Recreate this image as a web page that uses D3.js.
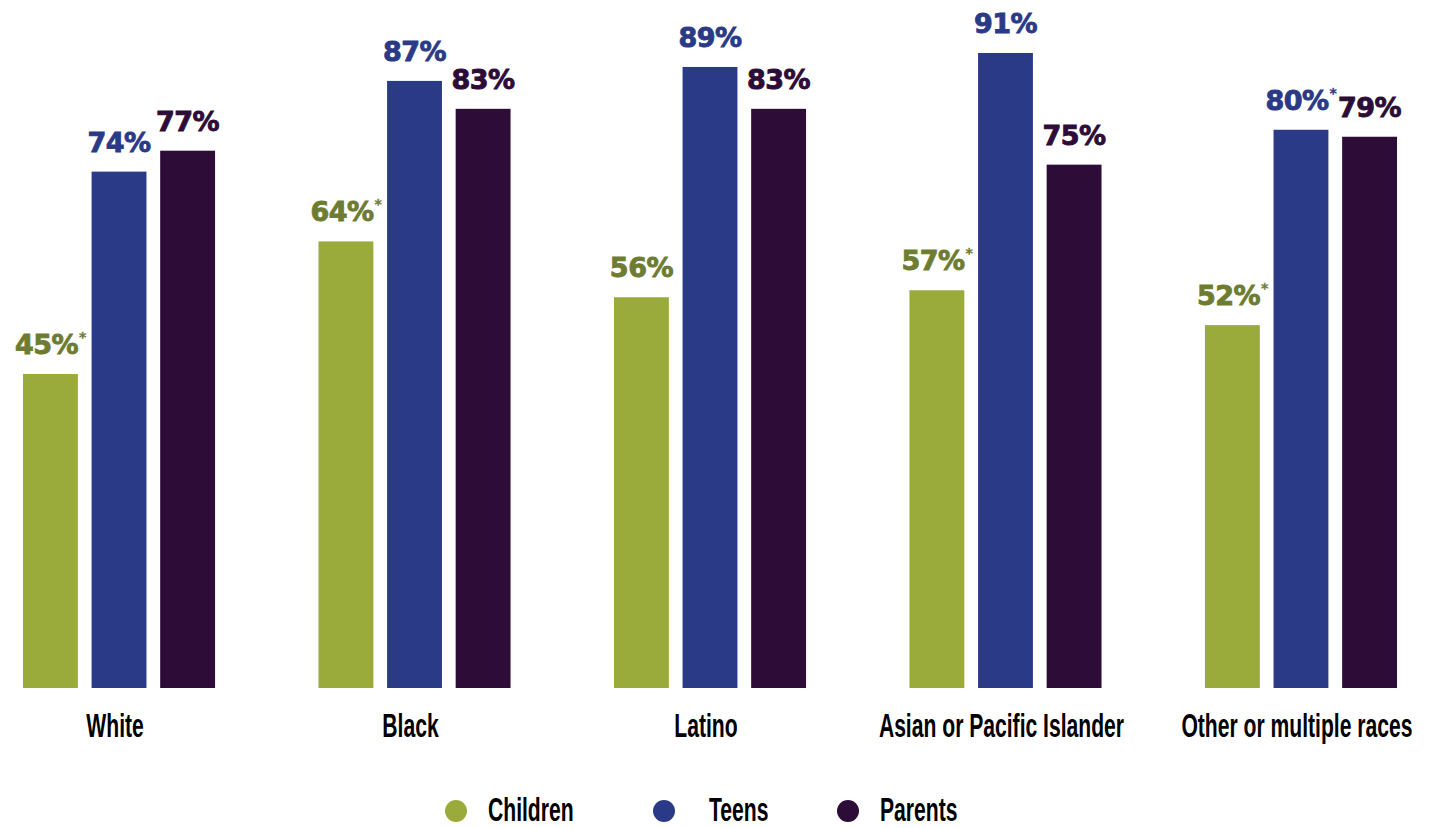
<!DOCTYPE html>
<html>
<head>
<meta charset="utf-8">
<script src="https://cdn.jsdelivr.net/npm/d3@7"></script>
<style>
  html, body { margin: 0; padding: 0; background: #fff; }
  svg { display: block; }
  .val { font-family: "DejaVu Sans", sans-serif; font-weight: bold; font-size: 27px; stroke-width: 0.9px; }
  .cat, .leg { font-family: "Liberation Sans Narrow", "Liberation Sans", sans-serif; font-weight: bold; font-size: 33px; fill: #000; }
</style>
</head>
<body>
<svg id="chart" width="1432" height="828"></svg>
<script>
// Share by race/ethnicity for each respondent group
const categories = ["White", "Black", "Latino", "Asian or Pacific Islander", "Other or multiple races"];
const seriesNames = ["Children", "Teens", "Parents"];
const children = [45, 64, 56, 57, 52];
const teens    = [74, 87, 89, 91, 80];
const parents  = [77, 83, 83, 75, 79];
// statistically significant differences are flagged with an asterisk
const childrenFlag = [true, true, false, true, true];
const teensFlag    = [false, false, false, false, true];
const parentsFlag  = [false, false, false, false, false];

const barColors   = { Children: "#9aab3c", Teens: "#2b3a87", Parents: "#2d0c38" };
const labelColors = { Children: "#6e7c32", Teens: "#2b3a87", Parents: "#2d0c38" };

const valuesBySeries = { Children: children, Teens: teens, Parents: parents };
const flagsBySeries  = { Children: childrenFlag, Teens: teensFlag, Parents: parentsFlag };

const rows = categories.map((c, i) => ({
  category: c,
  bars: seriesNames.map(s => ({ series: s, value: valuesBySeries[s][i], flag: flagsBySeries[s][i] }))
}));

const svg = d3.select("#chart");
const baseline = 688;

const x0 = d3.scaleBand().domain(categories).range([23, 1397]).paddingInner(0.35).paddingOuter(0);
const x1 = d3.scaleBand().domain(seriesNames).range([0, x0.bandwidth()]).paddingInner(0.2).paddingOuter(0);
const y = d3.scaleLinear().domain([0, 100]).range([baseline, baseline - 697.8]);

const groups = svg.selectAll("g.group").data(rows).join("g")
  .attr("class", "group")
  .attr("transform", d => `translate(${x0(d.category)},0)`);

groups.selectAll("rect").data(d => d.bars).join("rect")
  .attr("x", d => x1(d.series))
  .attr("y", d => y(d.value))
  .attr("width", x1.bandwidth())
  .attr("height", d => baseline - y(d.value))
  .attr("fill", d => barColors[d.series]);

const labels = groups.selectAll("text.val").data(d => d.bars).join("text")
  .attr("class", "val")
  .attr("text-anchor", "middle")
  .attr("x", d => x1(d.series) + x1.bandwidth() / 2)
  .attr("y", d => y(d.value) - 20)
  .attr("fill", d => labelColors[d.series])
  .attr("stroke", d => labelColors[d.series])
  .attr("letter-spacing", -0.5);
labels.append("tspan").text(d => d.value + "%");
labels.filter(d => d.flag).append("tspan")
  .attr("dx", 1).attr("dy", -12)
  .attr("font-size", 14)
  .attr("stroke-width", 0.3)
  .text("*");

// category axis labels
svg.selectAll("text.cat").data(categories).join("text")
  .attr("class", "cat")
  .attr("text-anchor", "middle")
  .attr("transform", d => `translate(${x0(d) + x0.bandwidth() / 2 - 4},737) scale(0.64,1)`)
  .text(d => d);

// legend
const legendX = [456, 664, 848];
const legend = svg.selectAll("g.leg").data(seriesNames).join("g")
  .attr("class", "leg")
  .attr("transform", (d, i) => `translate(${legendX[i]},811)`);
legend.append("circle").attr("r", 11).attr("fill", d => barColors[d]);
legend.append("text")
  .attr("class", "leg")
  .attr("transform", (d, i) => `translate(${i === 1 ? 45 : 32},10) scale(0.64,1)`)
  .text(d => d);
</script>
</body>
</html>
